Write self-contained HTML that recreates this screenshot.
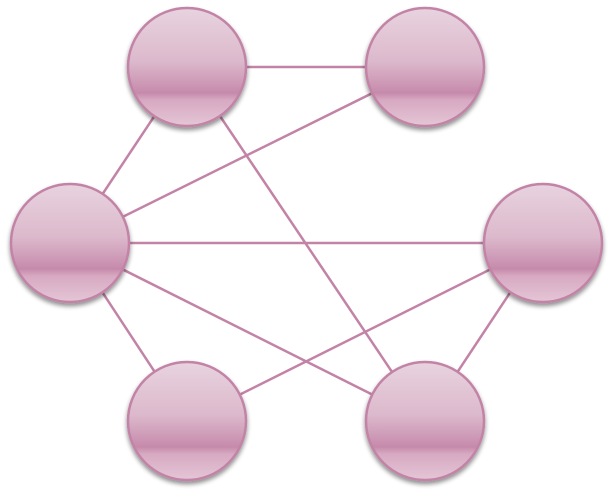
<!DOCTYPE html>
<html><head><style>html,body{margin:0;padding:0;background:#fff;}</style></head>
<body>
<svg width="613" height="495" xmlns="http://www.w3.org/2000/svg">
<defs>
<linearGradient id="g" x1="0" y1="0" x2="0" y2="1">
<stop offset="0" stop-color="#e8d3df"/>
<stop offset="0.45" stop-color="#dcb9cc"/>
<stop offset="0.72" stop-color="#c68aab"/>
<stop offset="0.78" stop-color="#d7a9c2"/>
<stop offset="1" stop-color="#e4c6d6"/>
</linearGradient>
<filter id="s" x="-20%" y="-20%" width="140%" height="140%"><feGaussianBlur in="SourceAlpha" stdDeviation="2.5"/><feOffset dx="0" dy="3"/><feComponentTransfer><feFuncA type="linear" slope="0.45"/></feComponentTransfer><feMerge><feMergeNode/><feMergeNode in="SourceGraphic"/></feMerge></filter>
</defs>
<g stroke="#c283a6" stroke-width="2.5">
<line x1="187" y1="67" x2="425" y2="67"/>
<line x1="187" y1="67" x2="70" y2="243"/>
<line x1="187" y1="67" x2="425" y2="421"/>
<line x1="70" y1="243" x2="425" y2="67"/>
<line x1="70" y1="243" x2="543" y2="243"/>
<line x1="70" y1="243" x2="425" y2="421"/>
<line x1="70" y1="243" x2="187" y2="421"/>
<line x1="187" y1="421" x2="543" y2="243"/>
<line x1="543" y1="243" x2="425" y2="421"/>
</g>
<g fill="url(#g)" stroke="#c283a6" stroke-width="2.5" filter="url(#s)">
<circle cx="187" cy="67" r="59"/>
<circle cx="425" cy="67" r="59"/>
<circle cx="70" cy="243" r="59"/>
<circle cx="543" cy="243" r="59"/>
<circle cx="187" cy="421" r="59"/>
<circle cx="425" cy="421" r="59"/>
</g>
</svg>
</body></html>
